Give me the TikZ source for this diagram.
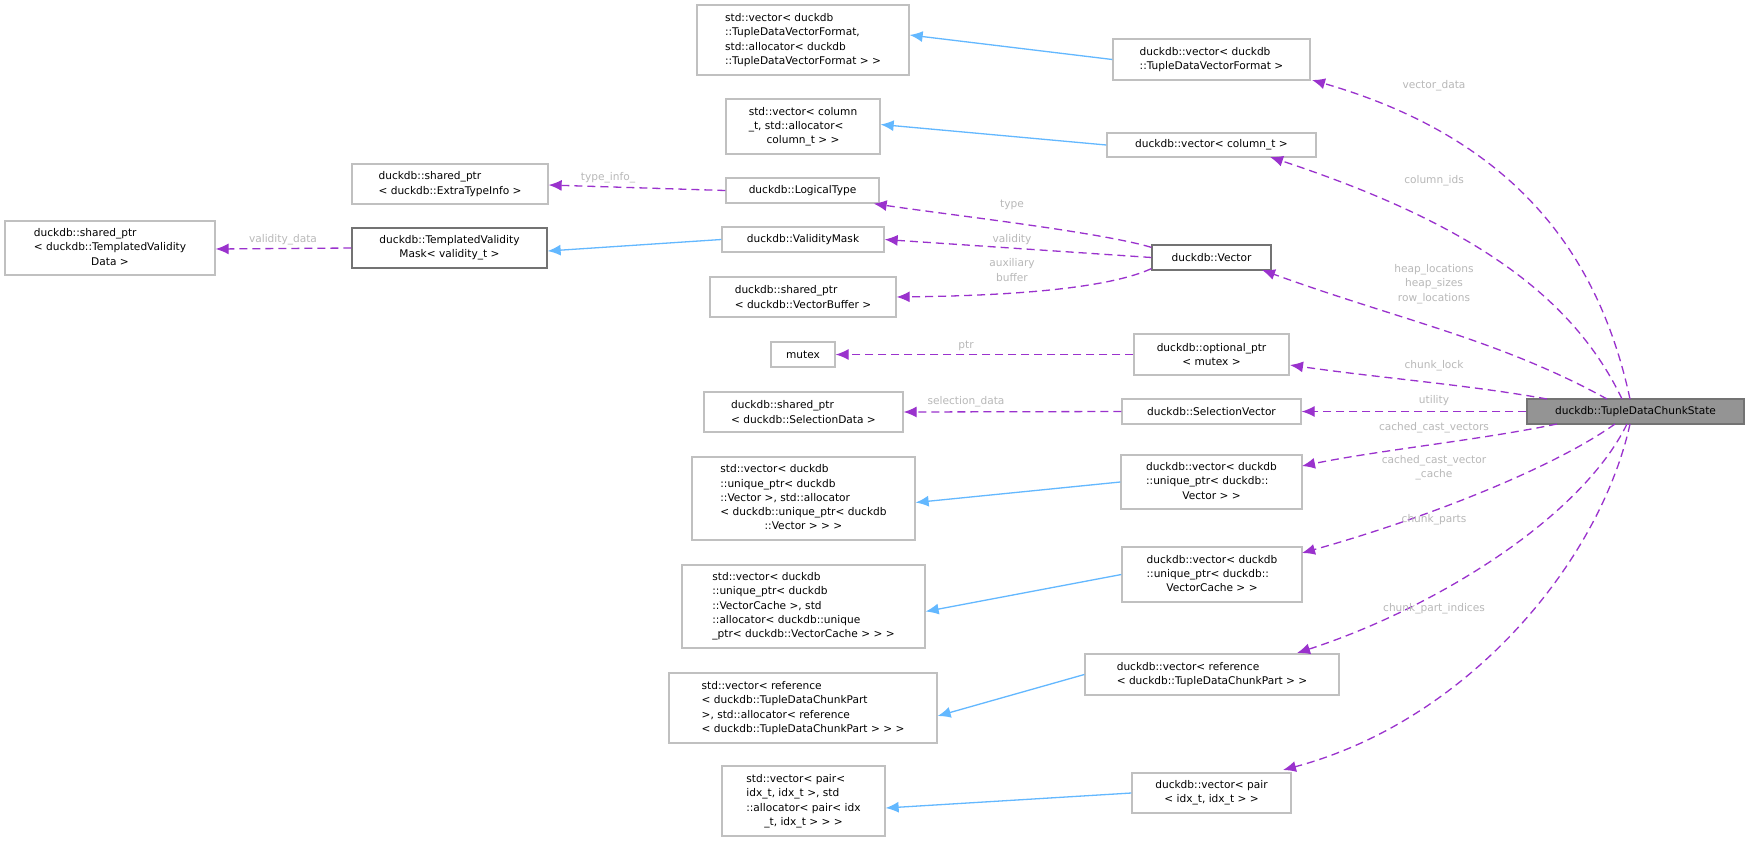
\documentclass[tikz,border=0pt]{standalone}
\usepackage{fontspec}
\setmainfont{DejaVu Sans}
\usetikzlibrary{arrows.meta}
\definecolor{pur}{HTML}{9A32CD}
\definecolor{blu}{HTML}{63B8FF}
\definecolor{lab}{HTML}{B8B8B8}
\definecolor{bd}{HTML}{C0C0C0}
\newcommand\fnt{\fontsize{10.6}{14.3}\selectfont}
\newcommand\tb[1]{\begin{tabular}{@{}l@{}}#1\end{tabular}}
\newcommand\cl[1]{\multicolumn{1}{@{}c@{}}{#1}}
\tikzset{
 box/.style={draw=bd,line width=1.3pt,fill=white,inner sep=0pt,align=center,font=\fnt},
 dbox/.style={box,draw=black!55},
 mbox/.style={box,draw=black!55,fill=black!42},
 lft/.style={align=left},
 dep/.style={draw=pur,line width=1.3pt,dash pattern=on 8pt off 5pt,-{Latex[length=13pt,width=11pt]}},
 inh/.style={draw=blu,line width=1.3pt,-{Latex[length=13pt,width=11pt]}},
 lbl/.style={text=lab,inner sep=0pt,align=center,font=\fnt},
}
\newcommand\mybox[7]{\node[#2,minimum width={(#5-#3)*1pt},minimum height={(#6-#4)*1pt}] (#1) at ({(#3+#5)/2},{(#4+#6)/2}) {#7};}
\begin{document}
\begin{tikzpicture}[x=1pt,y=-1pt]
\useasboundingbox[fill=white] (0,0) rectangle (1749,841);
\mybox{A1}{box,lft}{697}{5}{909}{75}{std::vector\textless{} duckdb\\::TupleDataVectorFormat,\\ std::allocator\textless{} duckdb\\::TupleDataVectorFormat \textgreater{} \textgreater{}}
\mybox{B1}{box,lft}{1113}{39}{1310}{80}{duckdb::vector\textless{} duckdb\\::TupleDataVectorFormat \textgreater{}}
\mybox{A2}{box}{726}{99}{880}{154}{\tb{std::vector\textless{} column\\\_t, std::allocator\textless{}\\\cl{column\_t \textgreater{} \textgreater{}}}}
\mybox{B2}{box}{1107}{133}{1316}{157}{duckdb::vector\textless{} column\_t \textgreater{}}
\mybox{C}{box,lft}{352}{164}{548}{204}{duckdb::shared\_ptr\\\textless{} duckdb::ExtraTypeInfo \textgreater{}}
\mybox{LT}{box}{726}{178}{879}{203}{duckdb::LogicalType}
\mybox{D}{box}{5}{221}{215}{275}{\tb{duckdb::shared\_ptr\\\textless{} duckdb::TemplatedValidity\\\cl{Data \textgreater{}}}}
\mybox{TVM}{dbox}{352}{228}{547}{268}{duckdb::TemplatedValidity\\Mask\textless{} validity\_t \textgreater{}}
\mybox{VM}{box}{722}{227}{884}{252}{duckdb::ValidityMask}
\mybox{VB}{box,lft}{710}{277}{896}{317}{duckdb::shared\_ptr\\\textless{} duckdb::VectorBuffer \textgreater{}}
\mybox{V}{dbox}{1152}{245}{1271}{270}{duckdb::Vector}
\mybox{MX}{box}{771}{342}{835}{367}{mutex}
\mybox{OP}{box}{1134}{334}{1289}{375}{duckdb::optional\_ptr\\\textless{} mutex \textgreater{}}
\mybox{SD}{box,lft}{704}{392}{903}{432}{duckdb::shared\_ptr\\\textless{} duckdb::SelectionData \textgreater{}}
\mybox{SV}{box}{1122}{399}{1301}{424}{duckdb::SelectionVector}
\mybox{E1}{box}{692}{457}{915}{540}{\tb{std::vector\textless{} duckdb\\::unique\_ptr\textless{} duckdb\\::Vector \textgreater{}, std::allocator\\\textless{} duckdb::unique\_ptr\textless{} duckdb\\\cl{::Vector \textgreater{} \textgreater{} \textgreater{}}}}
\mybox{F1}{box}{1121}{455}{1302}{509}{\tb{duckdb::vector\textless{} duckdb\\::unique\_ptr\textless{} duckdb::\\\cl{Vector \textgreater{} \textgreater{}}}}
\mybox{E2}{box,lft}{682}{565}{925}{648}{std::vector\textless{} duckdb\\::unique\_ptr\textless{} duckdb\\::VectorCache \textgreater{}, std\\::allocator\textless{} duckdb::unique\\\_ptr\textless{} duckdb::VectorCache \textgreater{} \textgreater{} \textgreater{}}
\mybox{F2}{box}{1122}{547}{1302}{602}{\tb{duckdb::vector\textless{} duckdb\\::unique\_ptr\textless{} duckdb::\\\cl{VectorCache \textgreater{} \textgreater{}}}}
\mybox{E3}{box,lft}{669}{673}{937}{743}{std::vector\textless{} reference\\\textless{} duckdb::TupleDataChunkPart\\ \textgreater{}, std::allocator\textless{} reference\\\textless{} duckdb::TupleDataChunkPart \textgreater{} \textgreater{} \textgreater{}}
\mybox{F3}{box,lft}{1085}{654}{1339}{695}{duckdb::vector\textless{} reference\\\textless{} duckdb::TupleDataChunkPart \textgreater{} \textgreater{}}
\mybox{E4}{box}{722}{766}{885}{836}{\tb{std::vector\textless{} pair\textless{}\\ idx\_t, idx\_t \textgreater{}, std\\::allocator\textless{} pair\textless{} idx\\\cl{\_t, idx\_t \textgreater{} \textgreater{} \textgreater{}}}}
\mybox{F4}{box}{1132}{773}{1291}{813}{duckdb::vector\textless{} pair\\\textless{} idx\_t, idx\_t \textgreater{} \textgreater{}}
\mybox{M}{mbox}{1527}{399}{1744}{424}{duckdb::TupleDataChunkState}
% inheritance
\draw[inh] (B1.west) -- ([yshift=5pt]A1.east);
\draw[inh] (B2.west) -- ([yshift=2pt]A2.east);
\draw[inh] (VM.west) -- ([yshift=-3pt]TVM.east);
\draw[inh] (F1.west) -- ([yshift=-4pt]E1.east);
\draw[inh] (F2.west) -- ([yshift=-5pt]E2.east);
\draw[inh] (F3.west) -- ([yshift=-8pt]E3.east);
\draw[inh] (F4.west) -- ([yshift=-7pt]E4.east);
% member deps
\draw[dep] (LT.west) -- ([yshift=-1pt]C.east);
\draw[dep] (TVM.west) -- ([yshift=-1pt]D.east);
\draw[dep] ([yshift=-3pt]V.north west) .. controls (1100,232) and (950,215) .. ([xshift=-6pt]LT.south east);
\draw[dep] (V.west) -- (VM.east);
\draw[dep] ([yshift=2pt]V.south west) .. controls (1100,292) and (980,296) .. (VB.east);
\draw[dep] (OP.west) -- (MX.east);
\draw[dep] (SV.west) -- (SD.east);
\draw[dep] (1630,399) .. controls (1600,260) and (1520,140) .. (1312,80);
\draw[dep] (1622,399) .. controls (1570,290) and (1460,220) .. (1270,157);
\draw[dep] (1607,399) .. controls (1500,340) and (1400,320) .. (1262,270);
\draw[dep] (1547,399) .. controls (1470,385) and (1380,378) .. (1290,365);
\draw[dep] (M.west) -- (SV.east);
\draw[dep] (1557,424) .. controls (1480,440) and (1380,450) .. (1302,466);
\draw[dep] (1615,424) .. controls (1550,470) and (1420,520) .. (1302,553);
\draw[dep] (1627,424) .. controls (1580,520) and (1430,610) .. (1297,653);
\draw[dep] (1630,424) .. controls (1600,560) and (1470,720) .. (1283,770);
% labels
\node[lbl] (l1) at (1434,86) {vector\_data};
\node[lbl] (l2) at (1434,181) {column\_ids};
\node[lbl] (l3) at (1434,284) {heap\_locations\\heap\_sizes\\row\_locations};
\node[lbl] (l4) at (1434,366) {chunk\_lock};
\node[lbl] (l5) at (1434,401) {utility};
\node[lbl] (l6) at (1434,428) {cached\_cast\_vectors};
\node[lbl] (l7) at (1434,468) {cached\_cast\_vector\\\_cache};
\node[lbl] (l8) at (1434,520) {chunk\_parts};
\node[lbl] (l9) at (1434,609) {chunk\_part\_indices};
\node[lbl] (l10) at (608,178) {type\_info\_};
\node[lbl] (l11) at (283,240) {validity\_data};
\node[lbl] (l12) at (1012,205) {type};
\node[lbl] (l13) at (1012,240) {validity};
\node[lbl] (l14) at (1012,270) {auxiliary\\buffer};
\node[lbl] (l15) at (966,346) {ptr};
\node[lbl] (l16) at (966,402) {selection\_data};
\end{tikzpicture}
\end{document}
